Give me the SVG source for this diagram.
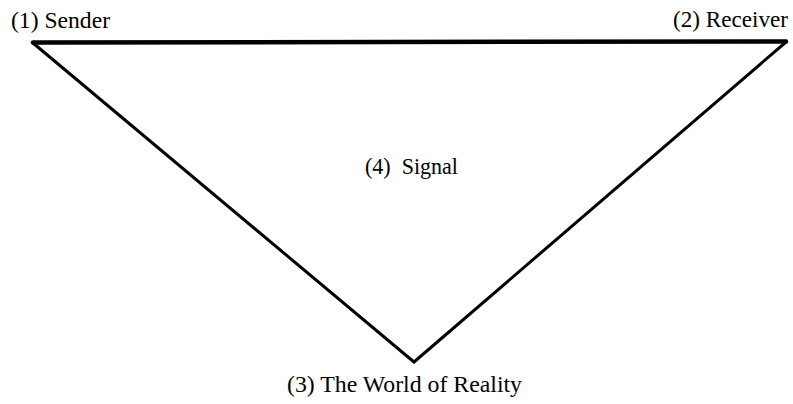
<svg xmlns="http://www.w3.org/2000/svg" width="793" height="404" viewBox="0 0 793 404">
<style>
text{font-family:"Liberation Serif","Times New Roman",serif;font-size:23px;fill:#000}
.e{stroke:#000;fill:none;stroke-linecap:round}
</style>
<rect width="793" height="404" fill="#fff"/>
<g id="connectors">
<line class="e" x1="33" y1="42.5" x2="786" y2="41.5" stroke-width="4.5"/>
<line class="e" x1="33" y1="43" x2="414" y2="362" stroke-width="3"/>
<line class="e" x1="786" y1="42" x2="414" y2="362" stroke-width="3"/>
</g>
<g id="sender"><text x="11" y="28" textLength="99" lengthAdjust="spacingAndGlyphs">(1) Sender</text></g>
<g id="receiver"><text x="673" y="27" textLength="115" lengthAdjust="spacingAndGlyphs">(2) Receiver</text></g>
<g id="signal"><text x="365" y="174" textLength="93" lengthAdjust="spacingAndGlyphs" xml:space="preserve">(4)  Signal</text></g>
<g id="world"><text x="287" y="392" textLength="235" lengthAdjust="spacingAndGlyphs">(3) The World of Reality</text></g>
</svg>
